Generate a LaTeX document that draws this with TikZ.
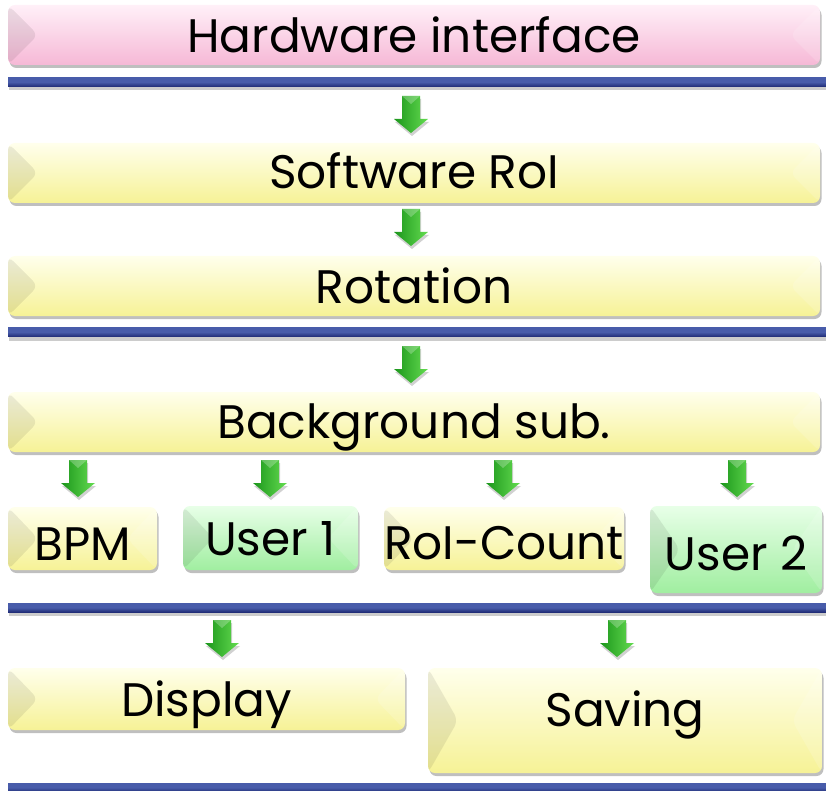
\documentclass[tikz,border=0pt]{standalone}
\usepackage{fontspec}
\setmainfont{Poppins}
\usetikzlibrary{shadows,calc}

\definecolor{yelTop}{RGB}{255,255,236}
\definecolor{yelMid}{RGB}{250,246,170}
\definecolor{yelBot}{RGB}{246,242,150}
\definecolor{pinkTop}{RGB}{255,240,248}
\definecolor{pinkMid}{RGB}{248,196,222}
\definecolor{pinkBot}{RGB}{246,184,214}
\definecolor{grnTop}{RGB}{232,255,232}
\definecolor{grnMid}{RGB}{178,244,178}
\definecolor{grnBot}{RGB}{160,238,160}
\definecolor{barDark}{RGB}{34,46,120}
\definecolor{barLight}{RGB}{72,92,170}
\definecolor{arrDark}{RGB}{28,150,28}
\definecolor{arrLight}{RGB}{100,220,80}

\tikzset{
  stage/.style={rounded corners=7pt, draw=none, inner sep=0pt,
    font=\fontsize{47}{47}\selectfont, text=black,
    text height=32.8pt, text depth=0pt,
    drop shadow={shadow xshift=1.5pt, shadow yshift=-3pt, opacity=0.25, fill=black},
    path picture={
      \fill[black,opacity=0.08] (path picture bounding box.north west)
        -- ([xshift=30pt]path picture bounding box.west)
        -- (path picture bounding box.south west) -- cycle;
      \fill[white,opacity=0.15] (path picture bounding box.north east)
        -- ([xshift=-30pt]path picture bounding box.east)
        -- (path picture bounding box.south east) -- cycle;
    }},
  % lower the label inside its box by the given amount
  textdrop/.style={execute at begin node={\setbox0=\hbox\bgroup},
    execute at end node={\egroup\lower#1\box0}},
  yellowbox/.style={stage, top color=yelTop, middle color=yelMid, bottom color=yelBot},
  pinkbox/.style={stage, top color=pinkTop, middle color=pinkMid, bottom color=pinkBot},
  greenbox/.style={stage, top color=grnTop, middle color=grnMid, bottom color=grnBot},
  layerbar/.style={draw=none, inner sep=0pt, minimum height=9pt,
    top color=barLight, bottom color=barDark, middle color=barLight,
    drop shadow={shadow xshift=1pt, shadow yshift=-4pt, opacity=0.2, fill=black}},
  blockarrow/.style={left color=arrDark, right color=arrLight, draw=none,
    drop shadow={shadow xshift=1pt, shadow yshift=-3pt, opacity=0.18, fill=black}},
}

% green block arrow pointing down, its top centre at the given coordinate
\newcommand{\downblock}[1]{%
  \path[blockarrow] ($(#1)+(-9,0)$) -- ($(#1)+(9,0)$) -- ($(#1)+(9,23)$)
    -- ($(#1)+(17,23)$) -- ($(#1)+(0,37)$) -- ($(#1)+(-17,23)$)
    -- ($(#1)+(-9,23)$) -- cycle;
  \fill[white,opacity=0.25] ($(#1)+(-9,0)$) -- ($(#1)+(9,0)$) -- ($(#1)+(0,8)$) -- cycle;
}

\begin{document}
\begin{tikzpicture}[x=1pt,y=-1pt]
\useasboundingbox (0,0) rectangle (826,791);

% processing stages
\node[pinkbox, textdrop=1pt, minimum width=812pt, minimum height=60pt] (hw) at (414,35) {Hardware interface};
\node[layerbar, minimum width=818pt] (bar1) at (417,82) {};
\coordinate (a1) at (411,96); \downblock{a1}

\node[yellowbox, textdrop=-1pt, minimum width=812pt, minimum height=60pt] (roi) at (414,173) {Software RoI};
\coordinate (a2) at (411,209); \downblock{a2}

\node[yellowbox, textdrop=1.5pt, minimum width=812pt, minimum height=60pt] (rot) at (414,286) {Rotation};
\node[layerbar, minimum width=818pt] (bar2) at (417,332) {};
\coordinate (a3) at (411,346); \downblock{a3}

\node[yellowbox, textdrop=0.5pt, minimum width=812pt, minimum height=60pt] (bg) at (414,422) {Background sub.};

% analysis branches
\coordinate (a4) at (78,460); \downblock{a4}
\coordinate (a5) at (270,460); \downblock{a5}
\coordinate (a6) at (503,460); \downblock{a6}
\coordinate (a7) at (737,460); \downblock{a7}

\node[yellowbox, textdrop=6pt, minimum width=149pt, minimum height=63pt] (bpm) at (82.5,538.5) {BPM};
\node[greenbox, textdrop=1pt, minimum width=175pt, minimum height=64pt] (u1) at (270.5,538) {User 1};
\node[yellowbox, textdrop=4.5pt, minimum width=240pt, minimum height=63pt] (cnt) at (504,538.5) {RoI-Count};
\node[greenbox, textdrop=4.5pt, minimum width=172pt, minimum height=87pt] (u2) at (736,549.5) {User 2};
\node[layerbar, minimum width=818pt] (bar3) at (417,607.5) {};

% outputs
\coordinate (a8) at (222,620); \downblock{a8}
\coordinate (a9) at (617,620); \downblock{a9}

\node[yellowbox, textdrop=1pt, minimum width=397pt, minimum height=62pt] (disp) at (206.5,699) {Display};
\node[yellowbox, textdrop=-10pt, minimum width=394pt, minimum height=105pt] (save) at (625,720.5) {Saving};
\node[layerbar, minimum width=818pt] (bar4) at (417,787.5) {};
\end{tikzpicture}
\end{document}
